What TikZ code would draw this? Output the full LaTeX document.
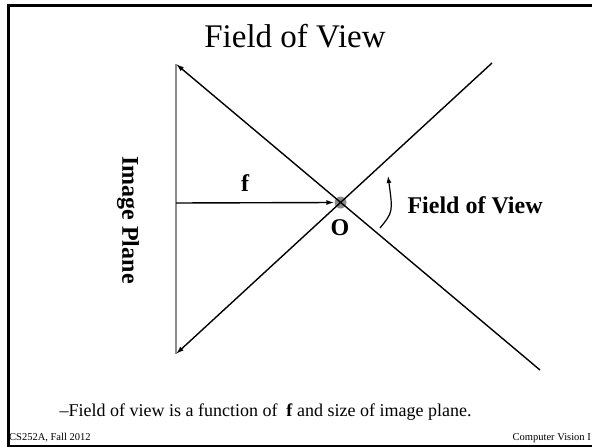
\documentclass[tikz,border=0pt]{standalone}
\usepackage{fontspec}
\setmainfont{Liberation Serif}
\usetikzlibrary{arrows.meta}

\begin{document}
\begin{tikzpicture}[
  x=1pt, y=-1pt,
  frame/.style={line width=3pt, black},
  plane/.style={line width=1.2pt, black!45},
  ray/.style={line width=1.4pt, -{Latex[length=8pt,width=5pt]}},
  lbl/.style={font=\fontsize{24}{28}\selectfont\bfseries},
]
  \useasboundingbox (0,0) rectangle (592,447);
  % slide frame
  \draw[frame] (592,5.5) -- (8.5,5.5) -- (8.5,446) -- (592,446);

  \node[font=\fontsize{33}{38}\selectfont] (title) at (295,36) {Field of View};

  % image plane and rays
  \coordinate (top) at (176,64);
  \coordinate (bot) at (176,354);
  \node[circle, fill=black!45, minimum size=12pt, inner sep=0pt] (o) at (340.5,202.5) {};
  \coordinate (ne) at (492,63);
  \coordinate (se) at (540,370);
  \draw[plane] (top) -- (bot);
  \draw[ray] (se) -- (top);
  \draw[ray] (ne) -- (bot);

  \coordinate (fstart) at (176,203);
  \draw[ray] (fstart) -- (o.west);
  \node[lbl] (f) at (245,183) {f};
  \node[lbl] (olbl) at (340,228) {O};

  \coordinate (arcstart) at (380,228);
  \coordinate (arcend) at (388,176);
  \draw[line width=1.2pt, -{Latex[length=7pt,width=5pt]}]
    (arcstart) .. controls (393,212) .. (arcend);
  \node[lbl, anchor=west] (fov) at (404,205) {Field of View};

  \node[lbl, rotate=-90] (plane) at (128,220) {Image Plane};

  \node[font=\fontsize{18}{22}\selectfont, anchor=base west] (note) at (56,416)
    {--Field of view is a function of \ \textbf{f} and size of image plane.};

  \node[font=\fontsize{10.5}{12}\selectfont, anchor=base west, inner sep=0pt] (course) at (9,440) {CS252A, Fall 2012};
  \node[font=\fontsize{10.5}{12}\selectfont, anchor=base east, inner sep=0pt] (subject) at (591,440) {Computer Vision I};
\end{tikzpicture}
\end{document}
